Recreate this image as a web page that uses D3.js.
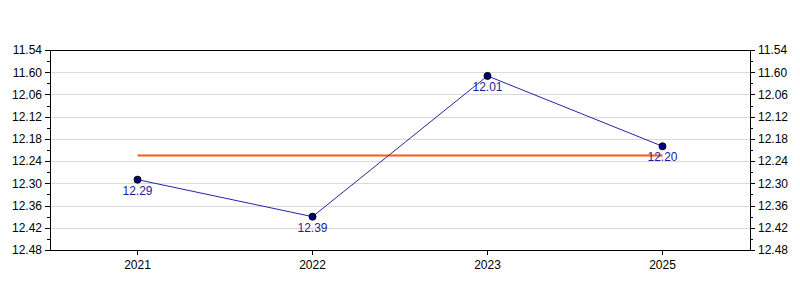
<!DOCTYPE html>
<html>
<head>
<meta charset="utf-8">
<script src="https://cdn.jsdelivr.net/npm/d3@7"></script>
<style>
  body { margin: 0; background: #fff; }
  svg { display: block; font-family: "Liberation Sans", Arial, sans-serif; }
  .axis path, .axis line { stroke: #000; shape-rendering: crispEdges; }
  .axis text { font-size: 12px; fill: #000; }
  .grid line { stroke: #d9d9d9; shape-rendering: crispEdges; }
</style>
</head>
<body>
<div id="chart"></div>
<script>
// values are written as minutes.seconds
var years = ["2021", "2022", "2023", "2025"];
var times = [12.29, 12.39, 12.01, 12.20];
var timeLabels = ["12.29", "12.39", "12.01", "12.20"];
var average = 12.225;
var yTickLabels = ["11.54", "11.60", "12.06", "12.12", "12.18", "12.24", "12.30", "12.36", "12.42", "12.48"];
var yMin = 11.54, yMax = 12.48;

var svgWidth = 800, svgHeight = 300;
var margin = {top: 50, right: 50, bottom: 50, left: 50};
var width = svgWidth - margin.left - margin.right,
    height = svgHeight - margin.top - margin.bottom;

// mm.ss -> seconds
function toSeconds(v) {
    var m = Math.floor(v);
    return m * 60 + Math.round((v - m) * 1000) / 10;
}

var svg = d3.select("#chart").append("svg")
    .attr("width", svgWidth)
    .attr("height", svgHeight)
    .append("g")
    .attr("transform", "translate(" + margin.left + "," + margin.top + ")");

var x = d3.scaleBand().domain(years).range([0, width]);
var y = d3.scaleLinear()
    .domain([toSeconds(yMin), toSeconds(yMax)])
    .range([0, height]);

var majorTicks = d3.range(toSeconds(yMin), toSeconds(yMax) + 1, 6);
var minorTicks = d3.range(toSeconds(yMin) + 3, toSeconds(yMax), 6);

// grid
svg.append("g")
    .attr("class", "grid")
    .selectAll("line")
    .data(majorTicks.slice(1, -1))
    .join("line")
    .attr("x1", 0)
    .attr("x2", width)
    .attr("y1", function(d) { return Math.round(y(d)) + 0.5; })
    .attr("y2", function(d) { return Math.round(y(d)) + 0.5; });

// frame
svg.append("rect")
    .attr("x", 0.5)
    .attr("y", 0.5)
    .attr("width", width)
    .attr("height", height)
    .attr("fill", "none")
    .attr("stroke", "#000")
    .attr("shape-rendering", "crispEdges");

function fmt(d, i) { return yTickLabels[i]; }

var yLeft = d3.axisLeft(y).tickValues(majorTicks).tickFormat(fmt).tickSize(5).tickPadding(3);
var yRight = d3.axisRight(y).tickValues(majorTicks).tickFormat(fmt).tickSize(5).tickPadding(3);

svg.append("g").attr("class", "y axis").call(yLeft);
svg.append("g").attr("class", "y axis")
    .attr("transform", "translate(" + width + ",0)")
    .call(yRight);

svg.append("g").attr("class", "axis")
    .call(d3.axisLeft(y).tickValues(minorTicks).tickFormat("").tickSize(3))
    .select(".domain").remove();
svg.append("g").attr("class", "axis")
    .attr("transform", "translate(" + width + ",0)")
    .call(d3.axisRight(y).tickValues(minorTicks).tickFormat("").tickSize(3))
    .select(".domain").remove();

svg.append("g")
    .attr("class", "x axis")
    .attr("transform", "translate(0," + height + ")")
    .call(d3.axisBottom(x).tickSize(5).tickPadding(5).tickSizeOuter(0));

svg.selectAll(".axis text").attr("font-family", null);

// average line
var xFirst = x(years[0]) + x.bandwidth() / 2,
    xLast = x(years[years.length - 1]) + x.bandwidth() / 2;
svg.append("line")
    .attr("x1", xFirst)
    .attr("x2", xLast)
    .attr("y1", y(toSeconds(average)))
    .attr("y2", y(toSeconds(average)))
    .attr("stroke", "#ff5a14")
    .attr("stroke-width", 2);

var pts = years.map(function(yr, i) {
    return {x: x(yr) + x.bandwidth() / 2, y: y(toSeconds(times[i])), label: timeLabels[i]};
});

svg.append("path")
    .datum(pts)
    .attr("fill", "none")
    .attr("stroke", "#2424a8")
    .attr("stroke-width", 1)
    .attr("d", d3.line().x(function(d) { return d.x; }).y(function(d) { return d.y; }));

svg.selectAll(".dot")
    .data(pts)
    .join("circle")
    .attr("class", "dot")
    .attr("cx", function(d) { return d.x; })
    .attr("cy", function(d) { return d.y; })
    .attr("r", 3.5)
    .attr("fill", "#000080")
    .attr("stroke", "#000")
    .attr("stroke-width", 1);

svg.selectAll(".val")
    .data(pts)
    .join("text")
    .attr("class", "val")
    .attr("x", function(d) { return d.x; })
    .attr("y", function(d) { return d.y + 15; })
    .attr("text-anchor", "middle")
    .attr("font-size", 12)
    .attr("fill", "#1c1c9c")
    .text(function(d) { return d.label; });
</script>
</body>
</html>
